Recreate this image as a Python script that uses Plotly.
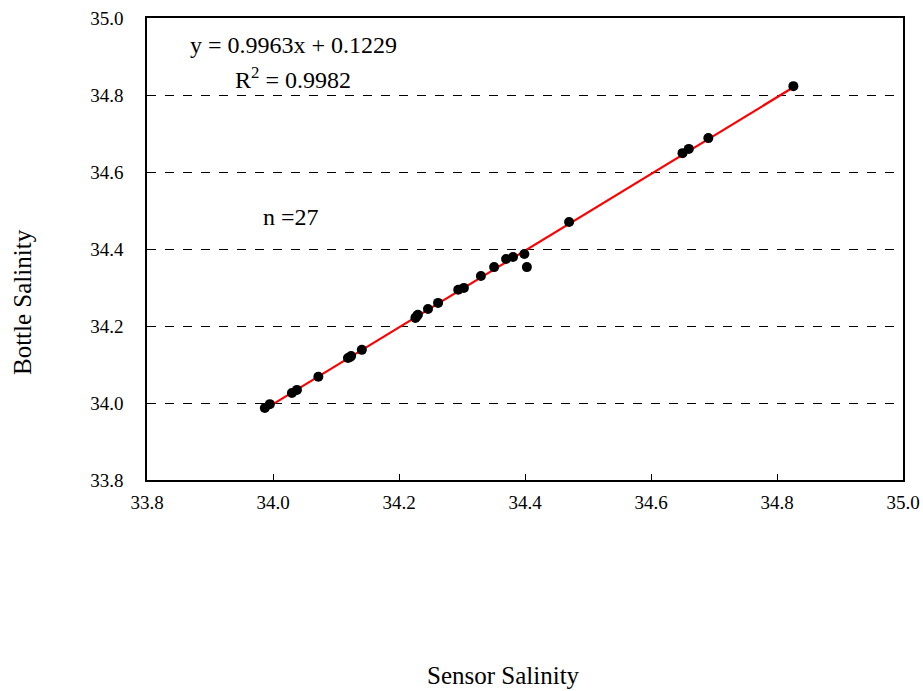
import plotly.graph_objects as go

sensor = [33.987, 33.995, 34.030, 34.038, 34.072, 34.119, 34.122, 34.124, 34.141,
          34.226, 34.228, 34.230, 34.246, 34.262, 34.294, 34.303, 34.330, 34.351,
          34.370, 34.381, 34.399, 34.403, 34.470, 34.650, 34.660, 34.691, 34.826]
bottle = [33.987, 33.997, 34.026, 34.034, 34.068, 34.117, 34.119, 34.122, 34.138,
          34.221, 34.225, 34.229, 34.244, 34.260, 34.294, 34.299, 34.330, 34.353,
          34.374, 34.379, 34.387, 34.353, 34.470, 34.649, 34.660, 34.688, 34.823]
slope, intercept = 0.9963, 0.1229
ticks = [33.8, 34.0, 34.2, 34.4, 34.6, 34.8, 35.0]

FONT = "Liberation Serif"
W, H = 923, 691
L, R, T, B = 147, 20, 18, 211
PW, PH = W - L - R, H - T - B


def px(x, y):
    return dict(xref="paper", yref="paper", x=(x - L) / PW, y=1 - (y - T) / PH,
                xanchor="center", yanchor="middle", showarrow=False)


fig = go.Figure()
xs = [min(sensor), max(sensor)]
fig.add_trace(go.Scatter(x=xs, y=[slope * v + intercept for v in xs], mode="lines",
                         line=dict(color="#ff0000", width=2.2), showlegend=False))
fig.add_trace(go.Scatter(x=sensor, y=bottle, mode="markers",
                         marker=dict(color="black", size=10), showlegend=False))

axis_common = dict(showline=True, linecolor="black", linewidth=1.5, mirror=True,
                   ticks="inside", ticklen=6, tickcolor="black", automargin=False,
                   tickfont=dict(family=FONT, size=19, color="black"),
                   zeroline=False, tickformat=".1f", ticklabeloverflow="allow")
fig.update_xaxes(range=[33.8, 35.0], tickvals=ticks, showgrid=False,
                 ticklabelstandoff=4, **axis_common)
fig.update_yaxes(range=[33.8, 35.0], tickvals=ticks, showgrid=True, gridcolor="black",
                 gridwidth=1, griddash="dash", ticklabelstandoff=18, **axis_common)

fig.update_layout(
    width=W, height=H, autosize=False,
    margin=dict(l=L, r=R, t=T, b=B),
    plot_bgcolor="white", paper_bgcolor="white",
    font=dict(family=FONT, color="black"),
    annotations=[
        dict(text="y = 0.9963x + 0.1229", font=dict(family=FONT, size=24), **px(293, 45)),
        dict(text="R<sup>2</sup> = 0.9982", font=dict(family=FONT, size=24), **px(293, 78)),
        dict(text="n =27", font=dict(family=FONT, size=24), **px(291, 217)),
        dict(text="Sensor Salinity", font=dict(family=FONT, size=25), **px(503, 675)),
        dict(text="Bottle Salinity", textangle=-90, font=dict(family=FONT, size=25), **px(22, 302)),
    ],
)

fig.write_html("out.html")
